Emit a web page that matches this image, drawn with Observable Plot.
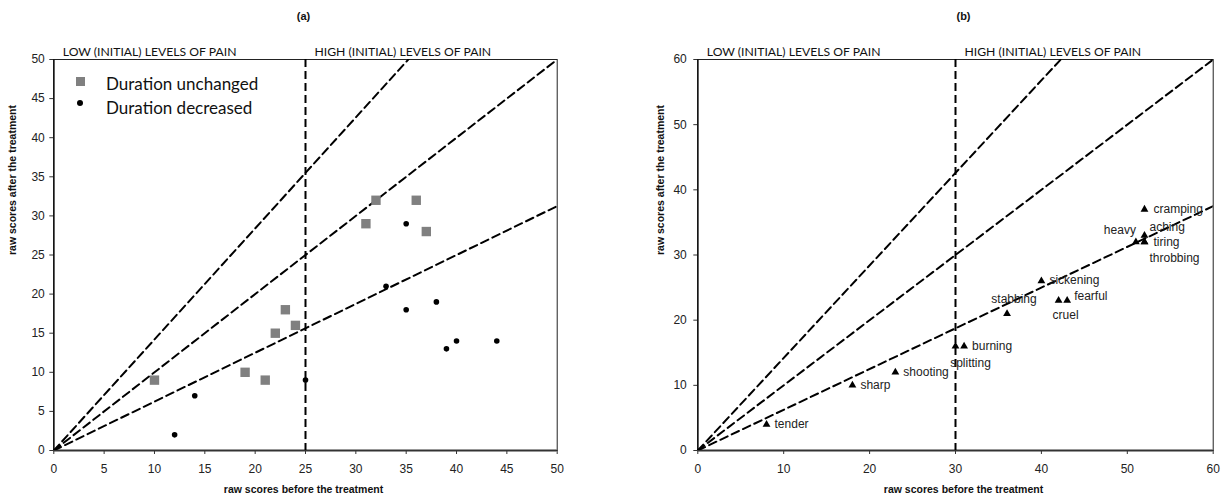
<!DOCTYPE html>
<html>
<head>
<meta charset="utf-8">
<script src="https://cdn.jsdelivr.net/npm/d3@7"></script>
<script src="https://cdn.jsdelivr.net/npm/@observablehq/plot@0.6"></script>
<style>
  html, body { margin: 0; padding: 0; background: white; }
  #wrap { position: relative; width: 1224px; height: 501px; }
  #left, #right { position: absolute; top: 0; }
  #left { left: 0; }
  #right { left: 612px; }
  .leg { position: absolute; font-family: Lato, "Open Sans", sans-serif; font-size: 17px; color: #111; transform: translateY(-50%); white-space: nowrap; }
  .sw { position: absolute; }
</style>
</head>
<body>
<div id="wrap">
  <div id="left"></div>
  <div id="right"></div>
  <div class="sw" style="left:76px;top:77px;width:9px;height:9px;background:#808080;"></div>
  <div class="sw" style="left:76.5px;top:100px;width:6px;height:6px;border-radius:50%;background:#000;"></div>
  <div class="leg" style="left:106px;top:83px;">Duration unchanged</div>
  <div class="leg" style="left:106px;top:107px;">Duration decreased</div>
</div>
<script>
// ---- data: panel (a)
const unchangedBefore = [10, 19, 21, 22, 23, 24, 31, 32, 36, 37];
const unchangedAfter  = [9, 10, 9, 15, 18, 16, 29, 32, 32, 28];
const decreasedBefore = [12, 14, 25, 33, 35, 35, 38, 39, 40, 44];
const decreasedAfter  = [2, 7, 9, 21, 29, 18, 19, 13, 14, 14];
// ---- data: panel (b)
const words      = ["tender", "sharp", "shooting", "splitting", "burning", "stabbing", "sickening", "cruel", "fearful", "heavy", "tiring", "throbbing", "aching", "cramping"];
const wordBefore = [8, 18, 23, 30, 31, 36, 40, 42, 43, 51, 52, 52, 52, 52];
const wordAfter  = [4, 10, 12, 16, 16, 21, 26, 23, 23, 32, 32, 32, 33, 37];
// ---- reference lines (slopes through origin) and thresholds
const refSlopes = [1.42, 1, 0.625];
const thresholdA = 25;
const thresholdB = 30;
const ticksA = [0, 5, 10, 15, 20, 25, 30, 35, 40, 45, 50];
const ticksB = [0, 10, 20, 30, 40, 50, 60];
const maxA = 50, maxB = 60;
const titles = ["(a)", "(b)"];
const headers = ["LOW (INITIAL) LEVELS OF PAIN", "HIGH (INITIAL) LEVELS OF PAIN"];
const xLabel = "raw scores before the treatment";
const yLabel = "raw scores after the treatment";

// label placement (layout only)
const place = {
  tender:   {dx: 8,  dy: 0,   a: "start"},
  sharp:    {dx: 8,  dy: 0,   a: "start"},
  shooting: {dx: 8,  dy: 0,   a: "start"},
  burning:  {dx: 8,  dy: 0,   a: "start"},
  splitting:{dx: 15, dy: 17,  a: "middle"},
  stabbing: {dx: 7,  dy: -14, a: "middle"},
  sickening:{dx: 8,  dy: -1,  a: "start"},
  cruel:    {dx: 7,  dy: 15,  a: "middle"},
  fearful:  {dx: 7,  dy: -4,  a: "start"},
  heavy:    {dx: -16,dy: -12, a: "middle"},
  tiring:   {dx: 9,  dy: 0,   a: "start"},
  throbbing:{dx: 5,  dy: 16,  a: "start"},
  aching:   {dx: 5,  dy: -8,  a: "start"},
  cramping: {dx: 9,  dy: 0,   a: "start"}
};

const unchanged = unchangedBefore.map((x, i) => ({x, y: unchangedAfter[i]}));
const decreased = decreasedBefore.map((x, i) => ({x, y: decreasedAfter[i]}));
const wordPts = words.map((w, i) => ({w, x: wordBefore[i], y: wordAfter[i]}));
const refLines = (max) => refSlopes.flatMap((s, k) => [{k, x: 0, y: 0}, {k, x: max, y: s * max}]);

const sans = "'Liberation Sans', Arial, sans-serif";
const cal = "Lato, 'Open Sans', sans-serif";

function panel({max, ticks, threshold, title, mLeft, mRight, titleDx, ylDx, yPad, extra}) {
  return Plot.plot({
    width: 612, height: 501,
    marginLeft: mLeft, marginRight: mRight, marginTop: 59, marginBottom: 51,
    x: {domain: [0, max], label: null},
    y: {domain: [0, max], label: null},
    style: {fontFamily: sans, fontSize: "12px", color: "#222", background: "white", overflow: "visible"},
    marks: [
      Plot.frame({stroke: "#222", strokeWidth: 1}),
      Plot.axisX({ticks, tickSize: 4, tickPadding: 10, stroke: "#333", fontSize: 12}),
      Plot.axisY({ticks, tickSize: 4, tickPadding: yPad, stroke: "#333", fontSize: 12}),
      Plot.ruleY([0], {stroke: "#333", strokeWidth: 2}),
      Plot.ruleX([0], {stroke: "#111", strokeWidth: 1.5}),
      Plot.line(refLines(max), {x: "x", y: "y", z: "k", stroke: "#000", strokeWidth: 2, strokeDasharray: "8,4.5", clip: true}),
      Plot.ruleX([threshold], {stroke: "#000", strokeWidth: 2, strokeDasharray: "8,4"}),
      ...extra,
      Plot.text([headers[0]], {x: 0, y: max, text: d => d, dx: 9, dy: -7, textAnchor: "start", fontFamily: cal, fontSize: 12.2, fill: "#111"}),
      Plot.text([headers[1]], {x: threshold, y: max, text: d => d, dx: 9, dy: -7, textAnchor: "start", fontFamily: cal, fontSize: 12.2, fill: "#111"}),
      Plot.text([title], {frameAnchor: "top", text: d => d, dy: -47, dx: titleDx, fontWeight: "bold", fontSize: 11, fill: "#111"}),
      Plot.text([xLabel], {frameAnchor: "bottom", text: d => d, dy: 42, dx: titleDx, fontWeight: "bold", fontSize: 10.5, fill: "#111"}),
      Plot.text([yLabel], {frameAnchor: "left", text: d => d, dx: ylDx, rotate: -90, fontWeight: "bold", fontSize: 10.5, fill: "#111"})
    ]
  });
}

const left = panel({
  max: maxA, ticks: ticksA, threshold: thresholdA, title: titles[0],
  mLeft: 53.3, mRight: 55.3, titleDx: -2, ylDx: -41, yPad: 5,
  extra: [
    Plot.dot(unchanged, {x: "x", y: "y", symbol: "square", r: 5.3, fill: "#808080"}),
    Plot.dot(decreased, {x: "x", y: "y", r: 2.8, fill: "#000"})
  ]
});

const right = panel({
  max: maxB, ticks: ticksB, threshold: thresholdB, title: titles[1],
  mLeft: 85.3, mRight: 11.3, titleDx: 8, ylDx: -37, yPad: 7,
  extra: [
    Plot.dot(wordPts, {x: "x", y: "y", symbol: "triangle", r: 2.9, fill: "#000"}),
    ...wordPts.map(d => {
      const p = place[d.w];
      return Plot.text([d], {x: "x", y: "y", text: "w", textAnchor: p.a, lineAnchor: "middle", dx: p.dx, dy: p.dy, fontSize: 12, fill: "#222"});
    })
  ]
});

document.getElementById("left").appendChild(left);
document.getElementById("right").appendChild(right);
</script>
</body>
</html>
